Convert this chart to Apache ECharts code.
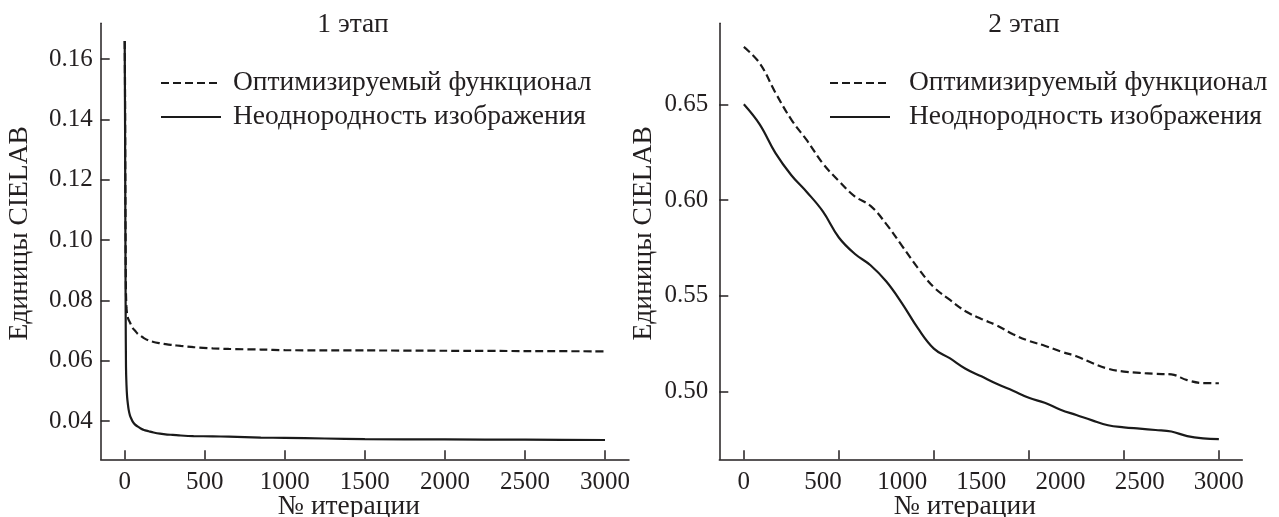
<!DOCTYPE html>
<html>
<head>
<meta charset="utf-8">
<script src="https://cdn.jsdelivr.net/npm/echarts@6/dist/echarts.min.js"></script>
<style>
  html, body { margin: 0; padding: 0; background: #fff; }
  #chart { width: 1279px; height: 517px; }
</style>
</head>
<body>
<div id="chart"></div>
<script>
// ---- Data ----
const titles = ['1 этап', '2 этап'];
const seriesNames = ['Оптимизируемый функционал', 'Неоднородность изображения'];
const xAxisName = '№ итерации';
const yAxisName = 'Единицы CIELAB';

// Stage 1
const stage1Iter = [0, 2, 4, 6, 8, 11, 15, 20, 25, 33, 40, 50, 65, 80, 100, 120, 150, 180, 220, 265, 300, 350, 430, 550, 650, 850, 1000, 1250, 1500, 2000, 2500, 3000];
const stage1Functional = [0.166, 0.150, 0.120, 0.095, 0.082, 0.0775, 0.0755, 0.0742, 0.0735, 0.0727, 0.0718, 0.0708, 0.0699, 0.0690, 0.0682, 0.0675, 0.0667, 0.0662, 0.0658, 0.0654, 0.0652, 0.0649, 0.0645, 0.0641, 0.0639, 0.0637, 0.0635, 0.0634, 0.0634, 0.0633, 0.0632, 0.0631];
const stage1Nonuniformity = [0.166, 0.140, 0.105, 0.075, 0.058, 0.052, 0.048, 0.0455, 0.0436, 0.0418, 0.0409, 0.0398, 0.0388, 0.0382, 0.0375, 0.0370, 0.0366, 0.0362, 0.0358, 0.0355, 0.0354, 0.0352, 0.0350, 0.0349, 0.0348, 0.0345, 0.0344, 0.0342, 0.0340, 0.0339, 0.0338, 0.0337];
const stage1XLabels = [0, 500, 1000, 1500, 2000, 2500, 3000];
const stage1XTicks = [0, 500, 1000, 1500, 2000, 2500, 3000];
const stage1YTicks = [0.04, 0.06, 0.08, 0.10, 0.12, 0.14, 0.16];

// Stage 2
const stage2Iter = [0, 100, 200, 300, 400, 500, 600, 700, 800, 900, 1000, 1100, 1200, 1300, 1400, 1500, 1600, 1700, 1800, 1900, 2000, 2100, 2200, 2300, 2400, 2500, 2600, 2700, 2800, 2900, 3000];
const stage2Functional = [0.680, 0.6715, 0.6560, 0.6420, 0.6310, 0.6190, 0.6100, 0.6020, 0.5970, 0.5875, 0.5760, 0.5645, 0.5545, 0.5480, 0.5420, 0.5380, 0.5345, 0.5300, 0.5265, 0.5240, 0.5210, 0.5185, 0.5150, 0.5120, 0.5105, 0.5098, 0.5093, 0.5090, 0.5060, 0.5045, 0.5044];
const stage2Nonuniformity = [0.650, 0.6395, 0.6245, 0.6130, 0.6040, 0.5940, 0.5805, 0.5720, 0.5660, 0.5575, 0.5460, 0.5330, 0.5225, 0.5175, 0.5120, 0.5080, 0.5040, 0.5005, 0.4968, 0.4942, 0.4906, 0.4878, 0.4850, 0.4825, 0.4814, 0.4807, 0.4800, 0.4792, 0.4768, 0.4756, 0.4752];
const stage2XLabels = [0, 500, 1000, 1500, 2000, 2500, 3000];
const stage2XTicks = [0, 600, 1200, 1800, 2400, 3000];
const stage2YTicks = [0.50, 0.55, 0.60, 0.65];

// ---- Styling ----
const FONT = 'Liberation Serif';
const INK = '#231f20';
const textBase = { fontFamily: FONT, color: INK };

function pairs(xs, ys) { return xs.map((x, i) => [x, ys[i]]); }

function xAxis(gridIndex, min, max, ticks, labels) {
  return {
    type: 'value', gridIndex, min, max,
    name: xAxisName, nameLocation: 'middle', nameGap: 33, nameMoveOverlap: false,
    nameTextStyle: Object.assign({ fontSize: 27.5, lineHeight: 28, padding: [0, 32, 0, 0] }, textBase),
    axisLine: { show: true, onZero: false, lineStyle: { color: INK, width: 1.5 } },
    axisTick: { show: true, inside: true, length: 9, customValues: ticks, lineStyle: { color: INK, width: 1.5 } },
    axisLabel: Object.assign({ fontSize: 25, margin: 11, customValues: labels, formatter: v => String(Math.round(v)) }, textBase),
    splitLine: { show: false }
  };
}

function yAxis(gridIndex, min, max, ticks, nameGap, labelMargin) {
  return {
    type: 'value', gridIndex, min, max,
    name: yAxisName, nameLocation: 'middle', nameGap, nameRotate: 90, nameMoveOverlap: false,
    nameTextStyle: Object.assign({ fontSize: 27.5, lineHeight: 28, padding: [0, 0, 0, 16] }, textBase),
    axisLine: { show: true, onZero: false, lineStyle: { color: INK, width: 1.5 } },
    axisTick: { show: true, inside: true, length: 9, customValues: ticks, lineStyle: { color: INK, width: 1.5 } },
    axisLabel: Object.assign({ fontSize: 25, margin: labelMargin, customValues: ticks, formatter: v => v.toFixed(2) }, textBase),
    splitLine: { show: false }
  };
}

function lineSeries(name, idx, data, dashed, smooth) {
  return {
    name, type: 'line', xAxisIndex: idx, yAxisIndex: idx,
    data, symbol: 'none', showSymbol: false, smooth,
    lineStyle: { color: '#1a1a1a', width: 2.2, type: dashed ? [8, 4] : 'solid' },
    itemStyle: { color: '#1a1a1a' },
    emphasis: { disabled: true }
  };
}

function legend(left, textPadLeft) {
  return {
    orient: 'vertical', left, top: 69, padding: 0,
    itemWidth: 60, itemHeight: 14, itemGap: 6,
    data: seriesNames,
    itemStyle: { opacity: 0 },
    textStyle: Object.assign({ fontSize: 27.5, lineHeight: 28, padding: [0, 0, 0, textPadLeft] }, textBase),
    selectedMode: false
  };
}

const option = {
  animation: false,
  backgroundColor: '#fff',
  title: [
    { text: titles[0], left: 353, top: 11, textAlign: 'center', padding: 0,
      textStyle: Object.assign({ fontSize: 27.5, fontWeight: 'normal' }, textBase) },
    { text: titles[1], left: 1024, top: 11, textAlign: 'center', padding: 0,
      textStyle: Object.assign({ fontSize: 27.5, fontWeight: 'normal' }, textBase) }
  ],
  legend: [legend(160, 7), legend(829, 14)],
  grid: [
    { left: 100.7, top: 23.3, width: 528.3, height: 436, containLabel: false, outerBoundsMode: 'none' },
    { left: 719.3, top: 23.3, width: 523, height: 436, containLabel: false, outerBoundsMode: 'none' }
  ],
  xAxis: [
    xAxis(0, -150, 3150, stage1XTicks, stage1XLabels),
    xAxis(1, -155, 3148, stage2XTicks, stage2XLabels)
  ],
  yAxis: [
    yAxis(0, 0.0273, 0.1719, stage1YTicks, 67, 8),
    yAxis(1, 0.4647, 0.6923, stage2YTicks, 62, 11)
  ],
  series: [
    lineSeries(seriesNames[0], 0, pairs(stage1Iter, stage1Functional), true, 0.25),
    lineSeries(seriesNames[1], 0, pairs(stage1Iter, stage1Nonuniformity), false, 0.25),
    lineSeries(seriesNames[0], 1, pairs(stage2Iter, stage2Functional), true, 0.4),
    lineSeries(seriesNames[1], 1, pairs(stage2Iter, stage2Nonuniformity), false, 0.4)
  ]
};

const chart = echarts.init(document.getElementById('chart'), null, { renderer: 'canvas' });
chart.setOption(option);
</script>
</body>
</html>
